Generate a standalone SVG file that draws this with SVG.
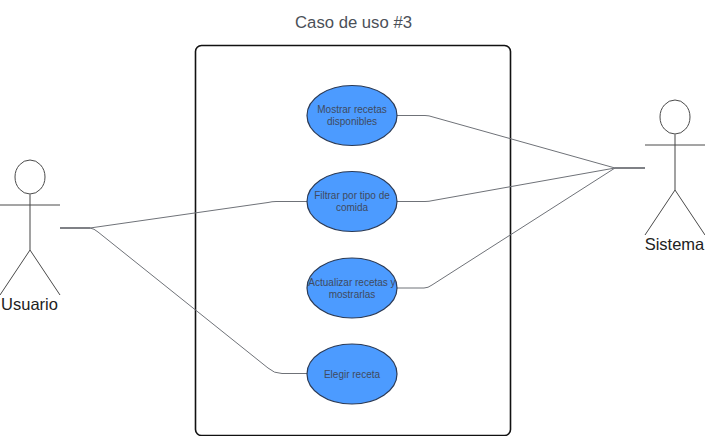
<svg xmlns="http://www.w3.org/2000/svg" width="705" height="436" viewBox="0 0 705 436">
<style>
text{font-family:"Liberation Sans",Arial,sans-serif;text-anchor:middle}
.uc ellipse{fill:#4c9bff;stroke:#2b3a55;stroke-width:1.2}
.uc text{font-size:10px;fill:#3f4a5e}
.actor ellipse{fill:#fff;stroke:#4a4a4a;stroke-width:1}
.actor .l{stroke:#4a4a4a;stroke-width:1;fill:none}
.actor .b{stroke:#8a8a8a;stroke-width:1.6;fill:none}
.actor text{font-size:16.500px;fill:#222}
.c{fill:none;stroke:#6f7278;stroke-width:1}
.s{fill:none;stroke:#5f6268;stroke-width:1.600}
</style>
<rect width="705" height="436" fill="#fff"/>
<text id="title" x="353.500" y="28" style="font-size:16.700px;fill:#4b5058">Caso de uso #3</text>
<g id="boundary"><rect x="195.500" y="45.500" width="315" height="390" rx="6" fill="#fff" stroke="#111" stroke-width="1.6"/></g>
<g id="connectors">
<path class="c" d="M90 228L268 202.500Q272 201.500 276 201.500L307 201.500"/>
<path class="c" d="M90 228Q94 228.500 98 232L268 368Q274 373.500 282 373.500L307 373.500"/>
<path class="c" d="M397 115.500L425 115.500Q429 115.500 433 117L615 168"/>
<path class="c" d="M397 201.500L425 201.500Q429 201.500 433 200.500L615 168"/>
<path class="c" d="M397 288L424 288Q428 288 432 285L615 168"/>
<path class="s" d="M60 228L90 228"/>
<path class="s" d="M615 168L645 168"/>
</g>
<g id="uc1" class="uc"><ellipse cx="352" cy="115.500" rx="45" ry="30"/><text x="352" y="113">Mostrar recetas</text><text x="352" y="125">disponibles</text></g>
<g id="uc2" class="uc"><ellipse cx="352" cy="201.500" rx="45" ry="30"/><text x="352" y="199">Filtrar por tipo de</text><text x="352" y="211">comida</text></g>
<g id="uc3" class="uc"><ellipse cx="352" cy="288" rx="45" ry="30"/><text x="352" y="286">Actualizar recetas y</text><text x="352" y="298">mostrarlas</text></g>
<g id="uc4" class="uc"><ellipse cx="352" cy="374" rx="45" ry="30"/><text x="352" y="378">Elegir receta</text></g>
<g id="usuario" class="actor">
<ellipse cx="30" cy="177" rx="15" ry="17"/>
<path class="b" d="M30 194L30 250"/>
<path class="l" d="M0 205L60 205M30 250L0 295M30 250L60 295"/>
<text x="29.500" y="310">Usuario</text>
</g>
<g id="sistema" class="actor">
<ellipse cx="675" cy="117" rx="15" ry="17"/>
<path class="b" d="M675 134L675 190"/>
<path class="l" d="M645 145L705 145M675 190L645 235M675 190L705 235"/>
<text x="674.500" y="250">Sistema</text>
</g>
</svg>
